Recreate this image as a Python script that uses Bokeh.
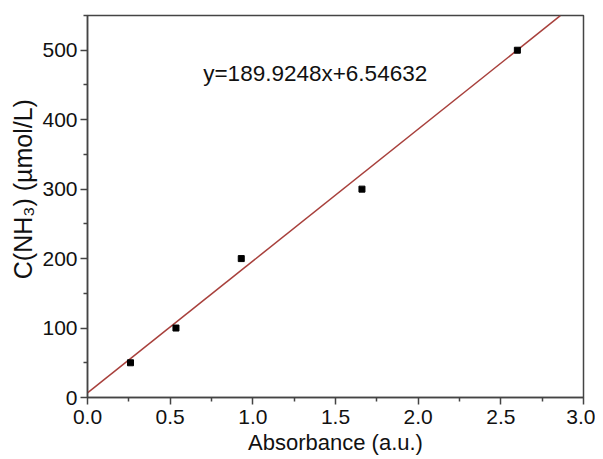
from bokeh.plotting import figure
from bokeh.models import Range1d, Label, FixedTicker, PrintfTickFormatter
from bokeh.embed import file_html
from bokeh.resources import INLINE

absorbance = [0.26, 0.535, 0.93, 1.66, 2.60]
conc = [50, 100, 200, 300, 500]
slope = 189.9248
intercept = 6.54632
fit_x = [0.0, 2.86]
fit_y = [slope * v + intercept for v in fit_x]
x_ticks = [0.0, 0.5, 1.0, 1.5, 2.0, 2.5, 3.0]
y_ticks = [0, 100, 200, 300, 400, 500]
equation = "y=189.9248x+6.54632"

FONT = "Liberation Sans"

p = figure(width=595, height=457, output_backend="svg", toolbar_location=None,
           x_range=Range1d(0, 3.0), y_range=Range1d(0, 550),
           min_border_left=87, min_border_right=12, min_border_top=15, min_border_bottom=60)
p.xgrid.visible = False
p.ygrid.visible = False
p.outline_line_color = "#444444"
p.outline_line_width = 1.5

p.line(fit_x, fit_y, line_color="#a8403c", line_width=1.5)
p.scatter(absorbance, conc, marker="square", size=6, color="black")

p.add_layout(Label(x=0.70, y=467, text=equation, text_font=FONT, text_font_size="22.5px",
                   text_baseline="middle", text_color="#111111"))

for ax, ticks, minor in ((p.xaxis, x_ticks, [0.25 + 0.5 * i for i in range(6)]),
                         (p.yaxis, y_ticks, [50 + 100 * i for i in range(6)])):
    ax.ticker = FixedTicker(ticks=ticks, minor_ticks=minor)
    ax.axis_line_color = "#444444"
    ax.axis_line_width = 1.5
    ax.major_tick_line_color = "#444444"
    ax.minor_tick_line_color = "#444444"
    ax.major_tick_line_width = 1.5
    ax.minor_tick_line_width = 1.5
    ax.major_tick_in = 0
    ax.major_tick_out = 7
    ax.minor_tick_in = 0
    ax.minor_tick_out = 4
    ax.major_label_text_font = FONT
    ax.major_label_text_font_size = "21px"
    ax.major_label_text_color = "#111111"
    ax.axis_label_text_font = FONT
    ax.axis_label_text_font_style = "normal"
    ax.axis_label_text_color = "#111111"

p.xaxis.formatter = PrintfTickFormatter(format="%.1f")
p.xaxis.axis_label = "Absorbance (a.u.)"
p.xaxis.axis_label_text_font_size = "22px"
p.xaxis.axis_label_standoff = 3
p.xaxis.major_label_standoff = 5
p.yaxis.axis_label = "\u00a0" * 5 + "C(NH\u2083) (\u00b5mol/L)"
p.yaxis.axis_label_text_font_size = "25px"
p.yaxis.major_label_standoff = 3
p.yaxis.axis_label_standoff = 2

open("out.html", "w").write(file_html(p, INLINE))
